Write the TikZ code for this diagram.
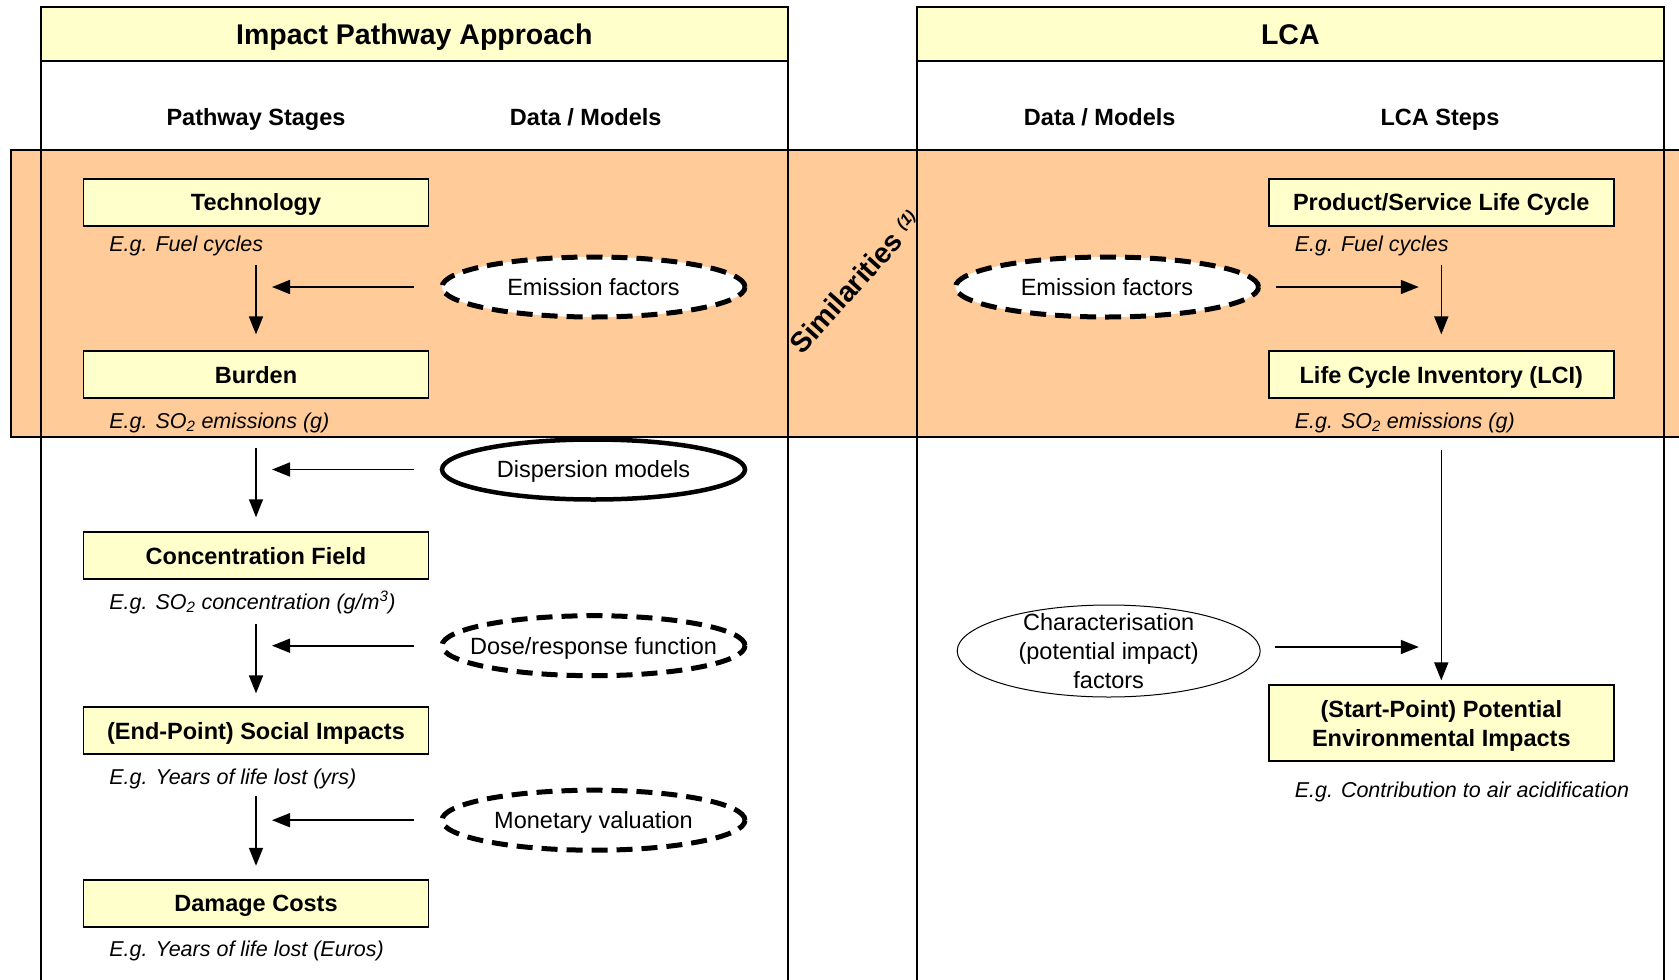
\documentclass[tikz,border=0pt]{standalone}
\usepackage{fontspec}
\setmainfont{Liberation Sans}
\usetikzlibrary{arrows.meta,shapes.geometric}
\definecolor{paleyellow}{HTML}{FFFFCC}
\definecolor{peach}{HTML}{FFCC99}

\tikzset{
  frame/.style={line width=1.8pt, draw=black},
  headbox/.style={draw=black, line width=1.8pt, fill=paleyellow, outer sep=0pt,
    minimum width=747.3pt, minimum height=53.6pt, inner sep=0pt,
    text height=20.4pt, text depth=0pt,
    font=\fontsize{28.5}{33}\selectfont\bfseries},
  colhead/.style={inner sep=0pt, text height=16.8pt, text depth=0pt,
    font=\fontsize{23.5}{28.9}\selectfont\bfseries},
  stagebox/.style={draw=black, line width=1.8pt, fill=paleyellow,
    minimum width=345pt, minimum height=47pt, inner sep=0pt, align=center,
    text height=16.8pt, text depth=0pt,
    font=\fontsize{23.5}{28.9}\selectfont\bfseries},
  note/.style={anchor=west, inner sep=0pt, text height=15.4pt, text depth=0pt,
    font=\fontsize{21.5}{26}\selectfont\itshape},
  factor/.style={ellipse, draw=black, fill=white, minimum width=303pt,
    minimum height=60pt, inner sep=0pt, align=center,
    text height=16.8pt, text depth=0pt,
    font=\fontsize{23.5}{28.9}\selectfont},
  dashedfactor/.style={factor, line width=5pt, dash pattern=on 16pt off 9pt},
  solidfactor/.style={factor, line width=4.5pt},
  thinfactor/.style={factor, line width=1pt, minimum height=92pt,
    inner xsep=-10pt, inner ysep=-12pt},
  arr/.style={-{Triangle[length=18pt,width=14pt]}, line width=1.6pt},
}

\begin{document}
\begin{tikzpicture}[x=1pt,y=-1pt]
\useasboundingbox (0,0) rectangle (1679,980);

% shaded band of similar steps
\fill[peach] (10.7,150) rectangle (1690,437);
\draw[frame] (10.7,150) rectangle (1690,437);

% the two panels
\node[headbox] (iphead) at (414.35,33.8) {Impact Pathway Approach};
\node[headbox] (lcahead) at (1290.3,33.8) {LCA};
\draw[frame] (iphead.south west) -- ++(0,930);
\draw[frame] (iphead.south east) -- ++(0,930);
\draw[frame] (lcahead.south west) -- ++(0,930);
\draw[frame] (lcahead.south east) -- ++(0,930);

% column headings
\node[colhead] (h1) at (256,116.7) {Pathway Stages};
\node[colhead] (h2) at (585.7,116.7) {Data / Models};
\node[colhead] (h3) at (1099.7,116.7) {Data / Models};
\node[colhead] (h4) at (1440,116.7) {LCA Steps};

% impact pathway stages
\node[stagebox] (tech) at (256,202.4) {Technology};
\node[stagebox] (burden) at (256,374.8) {Burden};
\node[stagebox] (conc) at (256,555.7) {Concentration Field};
\node[stagebox] (endpt) at (256,730.8) {(End-Point) Social Impacts};
\node[stagebox] (damage) at (256,903.2) {Damage Costs};

\node[note] (n1) at (109.2,244) {E.g. Fuel cycles};
\node[note] (n2) at (109.2,420.8) {E.g. SO\textsubscript{2} emissions (g)};
\node[note] (n3) at (109.2,601.8) {E.g. SO\textsubscript{2} concentration (g/m\textsuperscript{3})};
\node[note] (n4) at (109.2,776.3) {E.g. Years of life lost (yrs)};
\node[note] (n5) at (109.2,948.7) {E.g. Years of life lost (Euros)};

% LCA steps
\node[stagebox] (plc) at (1441.3,202.4) {Product/Service Life Cycle};
\node[stagebox] (lci) at (1441.3,374.8) {Life Cycle Inventory (LCI)};
\node[stagebox, minimum height=76pt, text height=45.7pt] (startpt) at (1441.3,723.3)
  {(Start-Point) Potential\\Environmental Impacts};

\node[note] (n6) at (1294.6,244) {E.g. Fuel cycles};
\node[note] (n7) at (1294.6,420.8) {E.g. SO\textsubscript{2} emissions (g)};
\node[note] (n8) at (1294.6,790) {E.g. Contribution to air acidification};

% data and models
\node[dashedfactor] (ef1) at (593.5,287) {Emission factors};
\node[solidfactor] (disp) at (593.5,469.5) {Dispersion models};
\node[dashedfactor, inner xsep=-17pt] (dose) at (593.5,645.7) {Dose/response function};
\node[dashedfactor] (mon) at (593.5,820.2) {Monetary valuation};
\node[dashedfactor] (ef2) at (1107,287) {Emission factors};
\node[thinfactor, text height=74.6pt] (charf) at (1108.7,651)
  {Characterisation\\(potential impact)\\factors};

% pathway flow
\draw[arr, shorten <=38pt, shorten >=16pt] (tech.south) -- (burden.north);
\draw[arr, shorten <=49pt, shorten >=14pt] (burden.south) -- (conc.north);
\draw[arr, shorten <=44pt, shorten >=13pt] (conc.south) -- (endpt.north);
\draw[arr, shorten <=41pt, shorten >=13pt] (endpt.south) -- (damage.north);

\draw[arr, shorten <=26pt, shorten >=16pt] (ef1.west) -- (ef1.west -| tech.south);
\draw[arr, shorten <=26pt, shorten >=16pt] (disp.west) -- (disp.west -| tech.south);
\draw[arr, shorten <=26pt, shorten >=16pt] (dose.west) -- (dose.west -| tech.south);
\draw[arr, shorten <=26pt, shorten >=16pt] (mon.west) -- (mon.west -| tech.south);

% LCA flow
\draw[arr, shorten <=38pt, shorten >=16pt] (plc.south) -- (lci.north);
\draw[arr, shorten <=51pt, shorten >=4pt] (lci.south) -- (startpt.north);
\draw[arr, shorten <=14.5pt, shorten >=22.5pt] (ef2.east) -- (ef2.east -| plc.south);
\draw[arr, shorten <=14.5pt, shorten >=22.5pt] ([yshift=4pt]charf.east) -- ([yshift=4pt]charf.east -| startpt.north);

% diagonal label across the gap
\node[rotate=48, inner sep=0pt, font=\fontsize{28.5}{33}\selectfont\bfseries] (sim) at (855,282)
  {Similarities \raisebox{0.3em}{\fontsize{16}{18}\selectfont\bfseries\itshape(1)}};
\end{tikzpicture}
\end{document}
